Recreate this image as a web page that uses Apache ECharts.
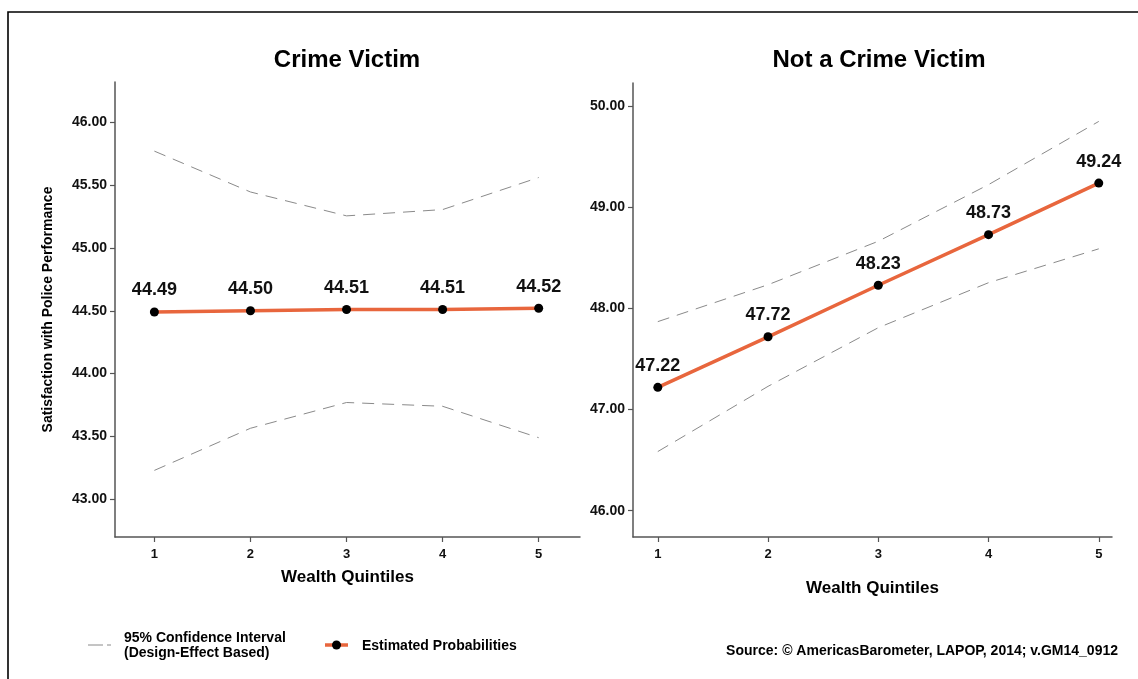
<!DOCTYPE html>
<html>
<head>
<meta charset="utf-8">
<script src="https://cdn.jsdelivr.net/npm/echarts@6/dist/echarts.min.js"></script>
<style>
html,body{margin:0;padding:0;background:#fff;}
#chart{width:1138px;height:679px;}
</style>
</head>
<body>
<div id="chart"></div>
<script>
// ---- data ----
const quintiles = [1, 2, 3, 4, 5];
const victimEstimate = [44.49, 44.50, 44.51, 44.51, 44.52];
const victimUpper = [45.77, 45.445, 45.255, 45.305, 45.56];
const victimLower = [43.23, 43.565, 43.77, 43.74, 43.49];
const nonVictimEstimate = [47.22, 47.72, 48.23, 48.73, 49.24];
const nonVictimUpper = [47.87, 48.235, 48.665, 49.225, 49.85];
const nonVictimLower = [46.585, 47.23, 47.81, 48.255, 48.59];
const victimTicks = [43.0, 43.5, 44.0, 44.5, 45.0, 45.5, 46.0];
const nonVictimTicks = [46, 47, 48, 49, 50];
const panelTitles = ['Crime Victim', 'Not a Crime Victim'];
const xAxisTitle = 'Wealth Quintiles';
const yAxisTitle = 'Satisfaction with Police Performance';
const legendCI = ['95% Confidence Interval', '(Design-Effect Based)'];
const legendEst = 'Estimated Probabilities';
const sourceText = 'Source: \u00A9 AmericasBarometer, LAPOP, 2014; v.GM14_0912';

const FONT = '"Liberation Sans", Arial, Helvetica, sans-serif';
const ORANGE = '#E8663D';
const AXIS = '#555555';

function pairs(xs, ys) { return xs.map((x, i) => [x, ys[i]]); }

function xAxisDef(gridIndex, min, max, gap) {
  return {
    type: 'value', gridIndex, min, max,
    name: xAxisTitle, nameLocation: 'middle', nameGap: gap,
    nameTextStyle: { fontFamily: FONT, fontWeight: 'bold', fontSize: 17, color: '#000' },
    axisLine: { show: true, lineStyle: { color: AXIS, width: 1.5 } },
    axisTick: { show: true, length: 5, customValues: quintiles, lineStyle: { color: AXIS, width: 1.2 } },
    axisLabel: { customValues: quintiles, margin: 11, fontFamily: FONT, fontWeight: 'bold', fontSize: 13, color: '#111',
      formatter: v => String(Math.round(v)) },
    splitLine: { show: false }
  };
}
function yAxisDef(gridIndex, min, max, ticks, withName) {
  const a = {
    type: 'value', gridIndex, min, max,
    axisLine: { show: true, lineStyle: { color: AXIS, width: 1.5 } },
    axisTick: { show: true, length: 5, customValues: ticks, lineStyle: { color: AXIS, width: 1.2 } },
    axisLabel: { customValues: ticks, margin: 8, fontFamily: FONT, fontWeight: 'bold', fontSize: 14, color: '#111',
      formatter: v => Number(v).toFixed(2) },
    splitLine: { show: false }
  };
  if (withName) {
    a.name = yAxisTitle; a.nameLocation = 'middle'; a.nameGap = 60;
    a.nameTextStyle = { fontFamily: FONT, fontWeight: 'bold', fontSize: 14, color: '#000' };
  }
  return a;
}
function ciSeries(idx, ys) {
  return {
    type: 'line', xAxisIndex: idx, yAxisIndex: idx, data: pairs(quintiles, ys),
    symbol: 'none', silent: true,
    lineStyle: { color: '#8a8a8a', width: 1, type: [12, 8] }, z: 2
  };
}
function estSeries(idx, ys) {
  return {
    type: 'line', xAxisIndex: idx, yAxisIndex: idx, data: pairs(quintiles, ys),
    symbol: 'circle', symbolSize: 9,
    itemStyle: { color: '#000' },
    lineStyle: { color: ORANGE, width: 3.5 },
    label: { show: true, position: 'top', distance: 8, fontFamily: FONT, fontWeight: 'bold', fontSize: 18, color: '#111',
      formatter: p => p.value[1].toFixed(2) },
    z: 5
  };
}

const chart = echarts.init(document.getElementById('chart'), null, { renderer: 'canvas' });
chart.setOption({
  backgroundColor: '#fff',
  animation: false,
  title: [
    { text: panelTitles[0], left: 347, top: 48, padding: 0, textAlign: 'center',
      textStyle: { fontFamily: FONT, fontWeight: 'bold', fontSize: 24, color: '#000' } },
    { text: panelTitles[1], left: 879, top: 48, padding: 0, textAlign: 'center',
      textStyle: { fontFamily: FONT, fontWeight: 'bold', fontSize: 24, color: '#000' } }
  ],
  grid: [
    { left: 115, top: 82, width: 465, height: 455 },
    { left: 633, top: 83, width: 479, height: 454 }
  ],
  xAxis: [xAxisDef(0, 0.59, 5.43, 32), xAxisDef(1, 0.775, 5.12, 43)],
  yAxis: [yAxisDef(0, 42.70, 46.32, victimTicks, true), yAxisDef(1, 45.74, 50.23, nonVictimTicks, false)],
  series: [
    ciSeries(0, victimUpper), ciSeries(0, victimLower), estSeries(0, victimEstimate),
    ciSeries(1, nonVictimUpper), ciSeries(1, nonVictimLower), estSeries(1, nonVictimEstimate)
  ],
  graphic: [
    { type: 'rect', shape: { x: 8, y: 12, width: 1140, height: 700 }, silent: true,
      style: { fill: 'none', stroke: '#000', lineWidth: 1.6 } },
    { type: 'line', shape: { x1: 88, y1: 645, x2: 111, y2: 645 }, silent: true,
      style: { stroke: '#8a8a8a', lineWidth: 1, lineDash: [15, 4] } },
    { type: 'text', left: 124, top: 631, silent: true,
      style: { text: legendCI[0] + '\n' + legendCI[1], font: 'bold 14px ' + FONT, fill: '#000', lineHeight: 15 } },
    { type: 'line', shape: { x1: 325, y1: 645, x2: 348, y2: 645 }, silent: true,
      style: { stroke: ORANGE, lineWidth: 3.5 } },
    { type: 'circle', shape: { cx: 336.5, cy: 645, r: 4.5 }, silent: true, style: { fill: '#000' } },
    { type: 'text', left: 362, top: 639, silent: true,
      style: { text: legendEst, font: 'bold 14px ' + FONT, fill: '#000' } },
    { type: 'text', right: 20, top: 644, silent: true,
      style: { text: sourceText, font: 'bold 14px ' + FONT, fill: '#000' } }
  ]
});
</script>
</body>
</html>
